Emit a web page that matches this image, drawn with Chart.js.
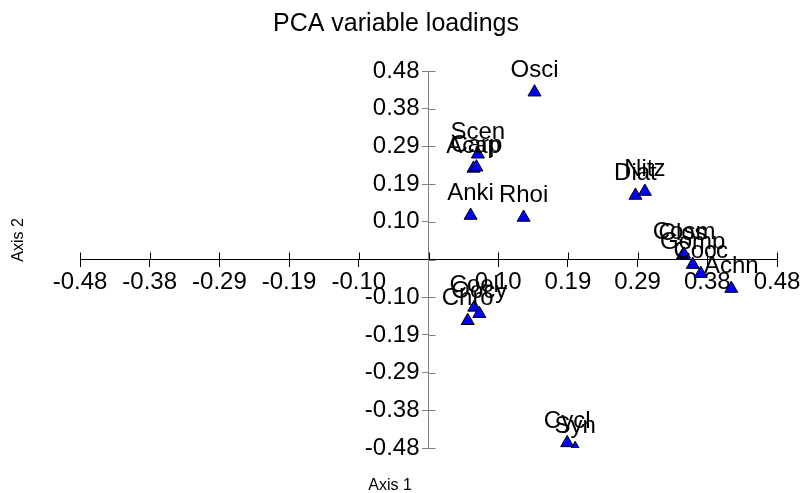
<!DOCTYPE html>
<html>
<head>
<meta charset="utf-8">
<script src="https://cdn.jsdelivr.net/npm/chart.js@4.4.1/dist/chart.umd.min.js"></script>
<style>
  body { margin: 0; background: #fff; }
</style>
</head>
<body>
<canvas id="pca" width="801" height="493"></canvas>
<script>
// variable names and their loadings on the two axes
const names = ['Osci', 'Scen', 'Acap', 'Carp', 'Anki', 'Rhoi', 'Diat', 'Nitz', 'Clos', 'Cosm',
               'Gomp', 'Cocc', 'Achn', 'Coel', 'Oocy', 'Chro', 'Cycl', 'Syn'];
const axis1 = [0.146, 0.068, 0.062, 0.066, 0.058, 0.131, 0.285, 0.298, 0.350, 0.352,
               0.364, 0.375, 0.417, 0.063, 0.070, 0.054, 0.191, 0.202];
const axis2 = [0.426, 0.268, 0.232, 0.235, 0.112, 0.107, 0.163, 0.173, 0.010, 0.013,
               -0.013, -0.036, -0.074, -0.122, -0.138, -0.156, -0.467, -0.482];

const tickValues = [-0.48, -0.384, -0.288, -0.192, -0.096, 0, 0.096, 0.192, 0.288, 0.384, 0.48];
const tickLabels = ['-0.48', '-0.38', '-0.29', '-0.19', '-0.10', '', '0.10', '0.19', '0.29', '0.38', '0.48'];

const FONT = '"Liberation Sans", Arial, sans-serif';
Chart.defaults.font.family = FONT;
Chart.defaults.color = '#000';

const points = axis1.map((x, i) => ({ x: x, y: axis2[i] }));

function setTicks(scale) {
    scale.ticks = tickValues.map(v => ({ value: v }));
}

// the axes cross in the middle, so they should take no room in the layout
function noRoomX(scale) {
    scale.height = 0;
    scale.paddingLeft = 0;
    scale.paddingRight = 0;
}
function noRoomY(scale) {
    scale.width = 0;
    scale.paddingTop = 0;
    scale.paddingBottom = 0;
}

const extras = {
    id: 'extras',
    afterLayout(chart) {
        // a centred y axis puts its labels right against the line, move them off it
        chart.scales.y.getLabelItems().forEach(item => {
            if (item.options && item.options.translation) item.options.translation[0] -= 9;
        });
    },
    afterDraw(chart) {
        const c = chart.ctx;
        const xs = chart.scales.x, ys = chart.scales.y;
        const x0 = xs.getPixelForValue(0), y0 = ys.getPixelForValue(0);
        c.save();
        // inner half of the tick marks
        c.lineWidth = 1;
        c.strokeStyle = '#000';
        tickValues.forEach(v => {
            const px = Math.round(xs.getPixelForValue(v)) + 0.5;
            c.beginPath(); c.moveTo(px, y0 + 0.5); c.lineTo(px, y0 - 7); c.stroke();
        });
        c.strokeStyle = '#808080';
        tickValues.forEach(v => {
            const py = Math.round(ys.getPixelForValue(v)) + 0.5;
            c.beginPath(); c.moveTo(x0, py); c.lineTo(x0 + 7, py); c.stroke();
        });

        // names above the points
        c.fillStyle = '#000';
        c.font = '24px ' + FONT;
        c.textAlign = 'center';
        c.textBaseline = 'middle';
        const meta = chart.getDatasetMeta(0);
        meta.data.forEach((pt, i) => {
            c.fillText(names[i], pt.x, pt.y - 22);
        });

        c.font = '25px ' + FONT;
        c.fillText('PCA variable loadings', 396, 24);

        c.font = '16px ' + FONT;
        c.fillText('Axis 1', 390, 486);
        c.translate(19, 240);
        c.rotate(-Math.PI / 2);
        c.fillText('Axis 2', 0, 0);
        c.restore();
    }
};

const ctx = document.getElementById('pca').getContext('2d');
const pcaChart = new Chart(ctx, {
    type: 'scatter',
    data: {
        datasets: [{
            data: points,
            pointStyle: 'triangle',
            pointRadius: 7.5,
            backgroundColor: '#0000ff',
            borderColor: '#000',
            borderWidth: 1
        }]
    },
    options: {
        responsive: false,
        animation: false,
        devicePixelRatio: 1,
        layout: { padding: { left: 80, right: 24, top: 71, bottom: 45 } },
        scales: {
            x: {
                type: 'linear',
                min: -0.48,
                max: 0.48,
                position: { y: 0 },
                afterBuildTicks: setTicks,
                afterFit: noRoomX,
                border: { color: '#000' },
                grid: { drawOnChartArea: false, tickLength: 7, color: '#000' },
                ticks: {
                    autoSkip: false,
                    maxRotation: 0,
                    padding: 1,
                    font: { size: 24 },
                    callback: (v, i) => tickLabels[i]
                }
            },
            y: {
                type: 'linear',
                min: -0.48,
                max: 0.48,
                position: { x: 0 },
                afterBuildTicks: setTicks,
                afterFit: noRoomY,
                border: { color: '#808080' },
                grid: { drawOnChartArea: false, tickLength: 6, color: '#808080' },
                ticks: {
                    autoSkip: false,
                    font: { size: 24 },
                    callback: (v, i) => tickLabels[i]
                }
            }
        },
        plugins: {
            legend: { display: false },
            tooltip: { enabled: false },
            title: { display: false }
        }
    },
    plugins: [extras]
});
</script>
</body>
</html>
